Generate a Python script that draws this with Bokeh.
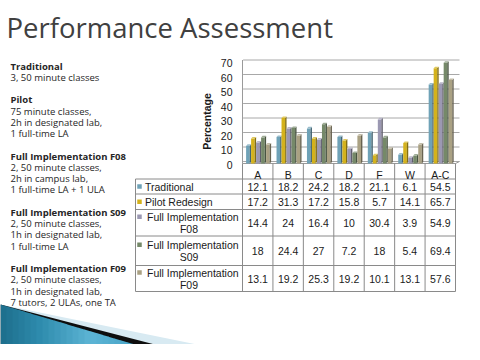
import math
from bokeh.plotting import figure
from bokeh.models import Range1d
from bokeh.core.properties import value
from bokeh.embed import file_html
from bokeh.resources import INLINE

# ---------------- data ----------------
categories = ["A", "B", "C", "D", "F", "W", "A-C"]
series_names = ["Traditional", "Pilot Redesign", "Full Implementation F08",
                "Full Implementation S09", "Full Implementation F09"]
traditional = [12.1, 18.2, 24.2, 18.2, 21.1, 6.1, 54.5]
pilot_redesign = [17.2, 31.3, 17.2, 15.8, 5.7, 14.1, 65.7]
full_f08 = [14.4, 24, 16.4, 10, 30.4, 3.9, 54.9]
full_s09 = [18, 24.4, 27, 7.2, 18, 5.4, 69.4]
full_f09 = [13.1, 19.2, 25.3, 19.2, 10.1, 13.1, 57.6]
y_ticks = [0, 10, 20, 30, 40, 50, 60, 70]
y_title = "Percentage"
title = "Performance Assessment"
notes = ["Traditional", "3, 50 minute classes", "",
         "Pilot", "75 minute classes,", "2h in designated lab,", "1 full-time LA", "",
         "Full Implementation F08", "2, 50 minute classes,", "2h in campus lab,", "1 full-time LA + 1 ULA", "",
         "Full Implementation S09", "2, 50 minute classes,", "1h in designated lab,", "1 full-time LA", "",
         "Full Implementation F09", "2, 50 minute classes,", "1h in designated lab,", "7 tutors, 2 ULAs, one TA"]
note_heads = ["Traditional", "Pilot", "Full Implementation F08",
              "Full Implementation S09", "Full Implementation F09"]

series = [traditional, pilot_redesign, full_f08, full_s09, full_f09]
colors = ["#6FA2B7", "#D4B21C", "#9B98B2", "#758969", "#AAA183"]

# ---------------- helpers ----------------
def shade(h, f):
    h = h.lstrip("#")
    r, g, b = (int(h[i:i + 2], 16) for i in (0, 2, 4))
    if f < 1:
        r, g, b = (int(c * f) for c in (r, g, b))
    else:
        t = f - 1
        r, g, b = (int(c + (255 - c) * t) for c in (r, g, b))
    return "#%02x%02x%02x" % (r, g, b)

FONT = value("Liberation Sans")
NFONT = value("Open Sans")

FW, FH = 464, 344
p = figure(width=FW, height=FH, x_range=Range1d(0, FW), y_range=Range1d(FH, 0),
           output_backend="svg", toolbar_location=None, min_border=0,
           x_axis_location=None, y_axis_location=None)
p.grid.visible = False
p.outline_line_color = None
p.background_fill_color = "white"
p.border_fill_color = "white"

# chart scales: categories across table columns, percentages vertically
X0, X1 = 242.0, 455.0
CW = (X1 - X0) / len(categories)
Y0, K = 163.0, 1.45
p.extra_x_ranges = {"cat": Range1d((0 - X0) / CW, (FW - X0) / CW)}
p.extra_y_ranges = {"pct": Range1d((Y0 - FH) / K, (Y0 - 0) / K)}

# ---------------- decoration (bottom-left wedge) ----------------
def edge(x, slope):
    return 304 + x * slope
p.patch([0, 300, 0], [304, edge(300, 0.2036), 360], color="#D8EAF2", line_color=None)
p.patch([0, 216, 0], [304, 360, 360], color="#0E0E0E", line_color=None)
teal_stops = [(0, "#1D6E8C"), (40, "#2F8CAE"), (90, "#5DB5D5"), (130, "#4AA6C8"), (190, "#1E7697")]
def lerp_col(x):
    for (a, ca), (b, cb) in zip(teal_stops[:-1], teal_stops[1:]):
        if a <= x <= b:
            t = (x - a) / (b - a)
            c1 = [int(ca[i:i + 2], 16) for i in (1, 3, 5)]
            c2 = [int(cb[i:i + 2], 16) for i in (1, 3, 5)]
            return "#%02x%02x%02x" % tuple(int(u + (v - u) * t) for u, v in zip(c1, c2))
    return teal_stops[-1][1]
s_teal = 56.0 / 188.0
for xa in range(0, 192, 6):
    xb = min(xa + 6.6, 188)
    p.patch([xa, xb, xb, xa], [edge(xa, s_teal), edge(xb, s_teal), 360, 360],
            color=lerp_col(xa + 3), line_color=None)

# ---------------- title & notes ----------------
p.text(x=[6], y=[27], text=[title], text_font=NFONT, text_font_size="27.5px",
       text_color="#404040", text_baseline="middle")

note_y = [65.7 + i * 11.25 for i in range(len(notes))]
for t, y in zip(notes, note_y):
    if not t:
        continue
    p.text(x=[10], y=[y], text=[t], text_font=NFONT, text_font_size="9.5px",
           text_font_style="bold" if t in note_heads else "normal",
           text_color="#262626", text_baseline="middle")

# ---------------- chart walls / gridlines ----------------
back = 2.0 / K
p.segment(x0=[0.02] * len(y_ticks), x1=[(459 - X0) / CW] * len(y_ticks),
          y0=[t + back for t in y_ticks], y1=[t + back for t in y_ticks],
          line_color="#A8A8A8", line_width=1, x_range_name="cat", y_range_name="pct")
p.segment(x0=[0], x1=[0], y0=[0], y1=[70 + back], line_color="#9A9A9A",
          x_range_name="cat", y_range_name="pct")
p.segment(x0=[0, 7], x1=[7, (459 - X0) / CW], y0=[0, 0], y1=[0, back],
          line_color="#9A9A9A", x_range_name="cat", y_range_name="pct")

# y tick labels and title
p.text(x=[232] * len(y_ticks), y=y_ticks, text=[str(t) for t in y_ticks],
       y_range_name="pct", text_font=FONT, text_font_size="10.5px",
       text_align="right", text_baseline="middle", y_offset=1, text_color="#1A1A1A")
p.text(x=[206], y=[121], text=[y_title], angle=math.pi / 2, text_font=FONT,
       text_font_size="10.5px", text_font_style="bold", text_align="center",
       text_baseline="middle", text_color="#1A1A1A")

# ---------------- 3D bars ----------------
fw = 3.6 / CW
step = 5.0 / CW
off = 3.6 / CW
dxu = 1.4 / CW
dyv = 1.6 / K
for s, (vals, col) in enumerate(zip(series, colors)):
    lefts = [i + off + s * step for i in range(len(categories))]
    rights = [l + fw for l in lefts]
    p.quad(left=lefts, right=rights, bottom=[0] * len(vals), top=vals,
           color=col, line_color=None, x_range_name="cat", y_range_name="pct")
    p.patches(xs=[[r, r + dxu, r + dxu, r] for r in rights],
              ys=[[0, dyv, v + dyv, v] for v in vals],
              color=shade(col, 0.62), line_color=None,
              x_range_name="cat", y_range_name="pct")
    p.patches(xs=[[l, l + dxu, r + dxu, r] for l, r in zip(lefts, rights)],
              ys=[[v, v + dyv, v + dyv, v] for v in vals],
              color=shade(col, 1.3), line_color=None,
              x_range_name="cat", y_range_name="pct")

# ---------------- data table ----------------
row_lines = [178.5, 193.5, 209, 235.5, 265, 291]
row_mid = [(a + b) / 2 for a, b in zip(row_lines[:-1], row_lines[1:])]
LINE = "#8A8A8A"
p.segment(x0=[135] * len(row_lines), x1=[X1] * len(row_lines), y0=row_lines, y1=row_lines,
          line_color=LINE, line_width=1)
p.segment(x0=[135], x1=[135], y0=[row_lines[0]], y1=[row_lines[-1]], line_color=LINE)
p.segment(x0=list(range(len(categories) + 1)), x1=list(range(len(categories) + 1)),
          y0=[Y0] * (len(categories) + 1), y1=[row_lines[-1]] * (len(categories) + 1),
          line_color=LINE, x_range_name="cat")

# category labels
p.text(x=[i + 0.5 for i in range(len(categories))], y=[174.5] * len(categories),
       text=categories, x_range_name="cat", text_font=FONT, text_font_size="10.5px",
       text_align="center", text_baseline="middle", text_color="#1A1A1A")

# values
for vals, ym in zip(series, row_mid):
    p.text(x=[i + 0.5 for i in range(len(vals))], y=[ym] * len(vals),
           text=["%g" % v for v in vals], x_range_name="cat", text_font=FONT,
           text_font_size="10.5px", text_align="center", text_baseline="middle",
           text_color="#1A1A1A")

# legend keys
for name, col, ym in zip(series_names, colors, row_mid):
    if name.startswith("Full Implementation"):
        first, second = "Full Implementation", name.split()[-1]
        y1, y2 = ym - 6, ym + 6
        p.rect(x=[139], y=[y1], width=4.5, height=4.5, color=col, line_color=None)
        p.text(x=[146.5], y=[y1], text=[first], text_font=FONT, text_font_size="10.5px",
               text_baseline="middle", text_color="#1A1A1A")
        p.text(x=[188.5], y=[y2], text=[second], text_font=FONT, text_font_size="10.5px",
               text_baseline="middle", text_align="center", text_color="#1A1A1A")
    else:
        p.rect(x=[139], y=[ym], width=4.5, height=4.5, color=col, line_color=None)
        p.text(x=[144.5], y=[ym], text=[name], text_font=FONT, text_font_size="10.5px",
               text_baseline="middle", text_color="#1A1A1A")

open("out.html", "w").write(file_html(p, INLINE))
